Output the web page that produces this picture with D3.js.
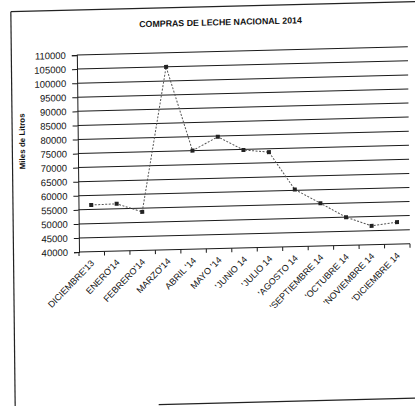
<!DOCTYPE html>
<html>
<head>
<meta charset="utf-8">
<script src="https://cdn.jsdelivr.net/npm/d3@7"></script>
<style>
  html, body { margin: 0; padding: 0; background: #fff; }
  svg { display: block; }
  text { font-family: Arial, "Liberation Sans", sans-serif; fill: #111; }
</style>
</head>
<body>
<svg id="chart" width="415" height="406"></svg>
<script>
const chartTitle = "COMPRAS DE LECHE NACIONAL 2014";
const yAxisTitle = "Miles de Litros";
const categories = ["DICIEMBRE'13", "ENERO'14", "FEBRERO'14", "MARZO'14", "ABRIL '14", "MAYO '14",
  "'JUNIO 14", "'JULIO 14", "'AGOSTO 14", "'SEPTIEMBRE 14", "'OCTUBRE 14", "'NOVIEMBRE 14", "'DICIEMBRE 14"];
const values = [56600, 56800, 53700, 105000, 75000, 79700, 74800, 73800, 60300, 55200, 50000, 46700, 47800];
const yTicks = [40000, 45000, 50000, 55000, 60000, 65000, 70000, 75000, 80000, 85000, 90000, 95000, 100000, 105000, 110000];

const svg = d3.select("#chart");
svg.append("rect").attr("width", 415).attr("height", 406).attr("fill", "#fff");

// scanned page is slightly skewed
const root = svg.append("g")
  .attr("transform", "translate(80,252) matrix(1,-0.025,0.011,1,0,0) translate(-80,-252)");

// frame of the scanned chart
const frame = root.append("g").attr("stroke", "#222").attr("stroke-width", 1.2).attr("fill", "none");
frame.append("line").attr("x1", 13.5).attr("y1", 10).attr("x2", 440).attr("y2", 10);
frame.append("line").attr("x1", 13.5).attr("y1", 10).attr("x2", 13.5).attr("y2", 420);
frame.append("line").attr("x1", 157).attr("y1", 406.5).attr("x2", 440).attr("y2", 406.5);

const pLeft = 79, pRight = 410, pBottom = 252, pTop = 55;
const x = d3.scaleBand().domain(categories).range([pLeft, pRight]);
const y = d3.scaleLinear().domain([40000, 110000]).range([pBottom, pTop]);

// title
root.append("text").attr("x", 223).attr("y", 26.5)
  .attr("text-anchor", "middle").attr("dominant-baseline", "middle")
  .attr("font-size", 8.8).attr("font-weight", "bold").text(chartTitle);

// y title
root.append("text").attr("transform", "translate(24,140) rotate(-90)")
  .attr("text-anchor", "middle").attr("dominant-baseline", "middle")
  .attr("font-size", 8).attr("font-weight", "bold").text(yAxisTitle);

// gridlines
root.append("g").selectAll("line").data(yTicks).join("line")
  .attr("x1", pLeft).attr("x2", pRight)
  .attr("y1", d => y(d)).attr("y2", d => y(d))
  .attr("stroke", "#1a1a1a").attr("stroke-width", 1);

// y axis
const yAxis = root.append("g").attr("transform", `translate(${pLeft},0)`)
  .call(d3.axisLeft(y).tickValues(yTicks).tickFormat(d3.format("d")).tickSize(5).tickPadding(6));
yAxis.select(".domain").attr("stroke", "#1a1a1a");
yAxis.selectAll(".tick line").attr("stroke", "#1a1a1a");
yAxis.selectAll(".tick text").attr("font-size", 9.5).attr("font-family", "Arial, 'Liberation Sans', sans-serif").attr("fill", "#111");

// x ticks between categories
const bounds = categories.map(c => x(c)).concat([x(categories[categories.length - 1]) + x.bandwidth()]);
root.append("g").selectAll("line").data(bounds).join("line")
  .attr("x1", d => d).attr("x2", d => d)
  .attr("y1", pBottom).attr("y2", pBottom + 4)
  .attr("stroke", "#1a1a1a").attr("stroke-width", 1);

// x labels
root.append("g").selectAll("text").data(categories).join("text")
  .attr("transform", d => `translate(${x(d) + x.bandwidth() / 2 + 3},${pBottom + 12}) rotate(-45)`)
  .attr("text-anchor", "end")
  .attr("font-size", 9)
  .text(d => d);

// series
const cx = d => x(d) + x.bandwidth() / 2;
const line = d3.line().x((d, i) => cx(categories[i])).y(d => y(d));
root.append("path").datum(values)
  .attr("d", line).attr("fill", "none")
  .attr("stroke", "#555").attr("stroke-width", 1).attr("stroke-dasharray", "2,1.5");
root.append("g").selectAll("rect").data(values).join("rect")
  .attr("x", (d, i) => cx(categories[i]) - 2).attr("y", d => y(d) - 2)
  .attr("width", 4).attr("height", 4).attr("fill", "#222");
</script>
</body>
</html>
